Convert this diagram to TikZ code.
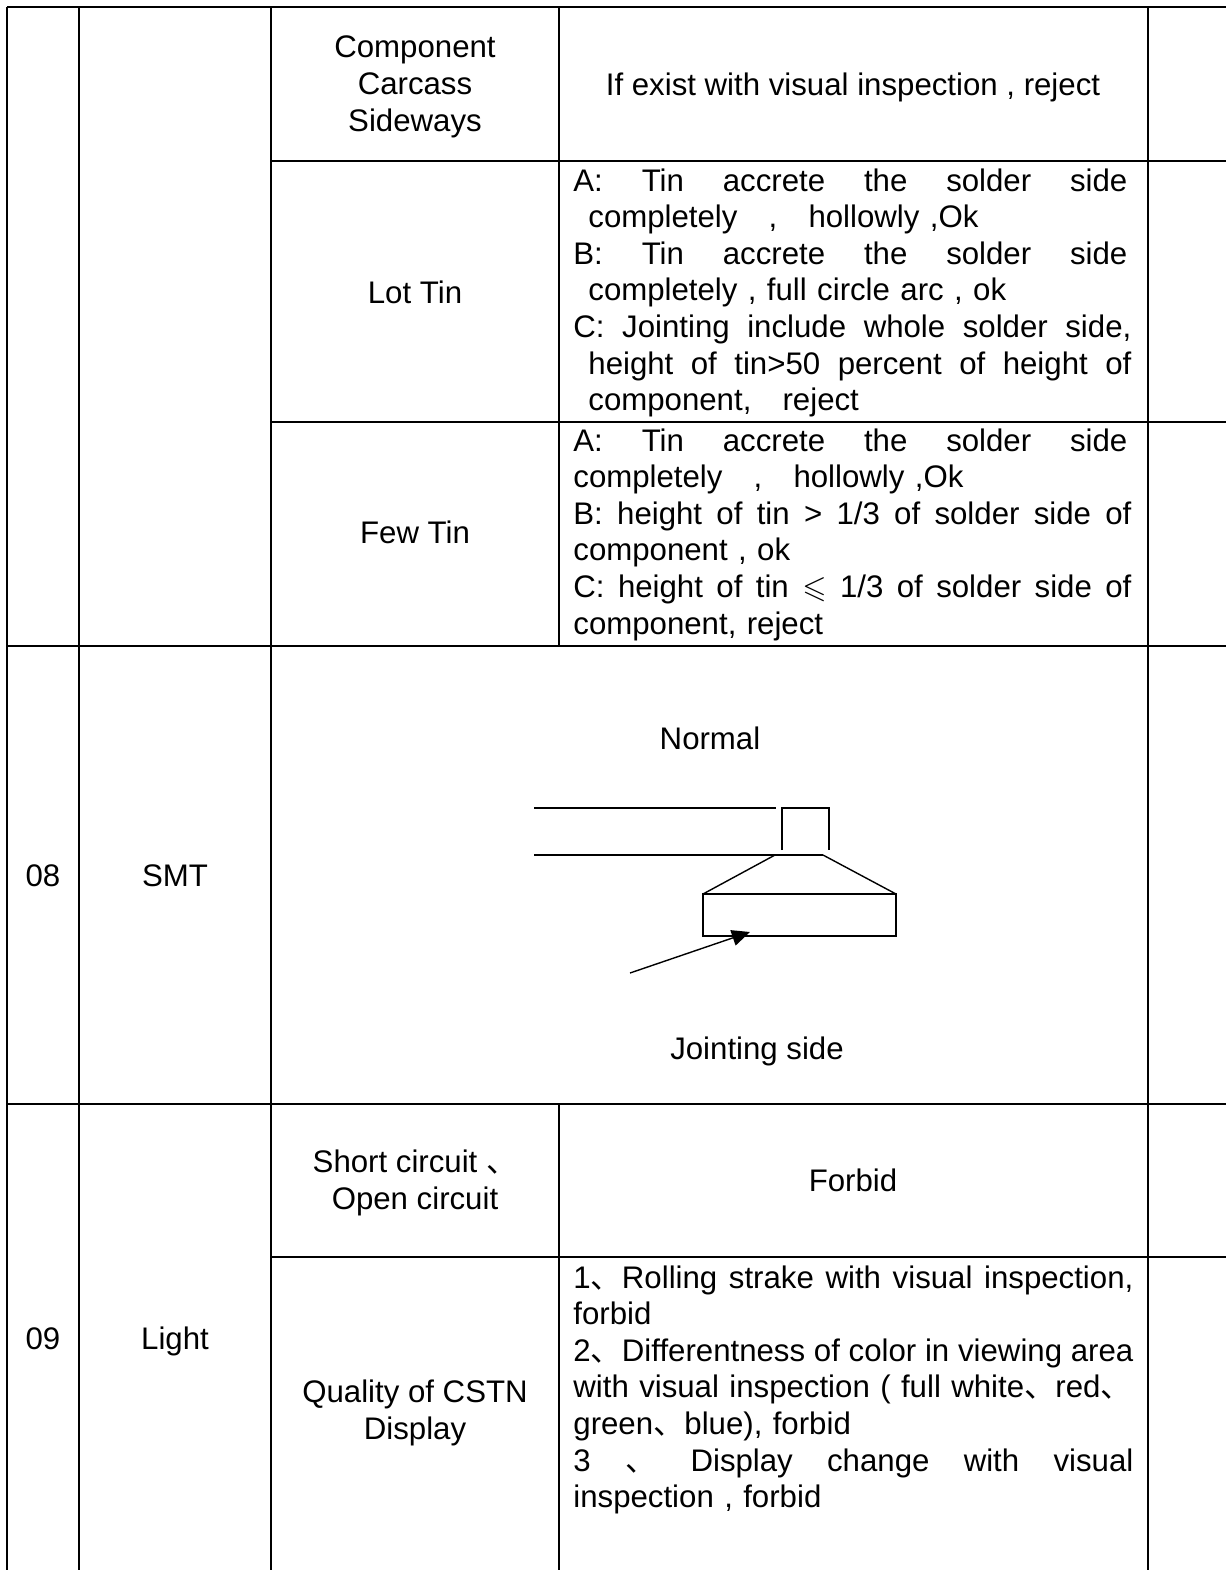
\documentclass[tikz,border=0pt]{standalone}
\usepackage{amssymb}
\usepackage{fontspec}
\setmainfont{Liberation Sans}
\newfontfamily\cjk{Noto Sans CJK SC}
\usetikzlibrary{arrows.meta}
\newcommand{\dun}{{\cjk 、}}
\newlength\dw
\setlength\dw{279pt}
\newcommand{\jl}[2][\dw]{\leavevmode\hbox to #1{\spaceskip=0.278em plus 1fil minus 0.12em\relax #2}}
\begin{document}
\begin{tikzpicture}[x=0.5pt,y=-0.5pt,
  tbl/.style={line width=1pt},
  fig/.style={line width=0.7pt},
  txt/.style={inner sep=0pt, font=\fontsize{15.6pt}{18.3pt}\selectfont},
  ctr/.style={txt, align=center, execute at begin node={\strut}, execute at end node={\strut}},
  desc/.style={txt, anchor=north west, text width=290pt, align=left, execute at begin node={\strut}}]
\useasboundingbox (0,0) rectangle (1226,1570);

% table grid
\draw[tbl] (7,7) -- (1226,7);
\draw[tbl] (7,7) -- (7,1570);
\draw[tbl] (79,7) -- (79,1570);
\draw[tbl] (271,7) -- (271,1570);
\draw[tbl] (559,7) -- (559,646);
\draw[tbl] (559,1104) -- (559,1570);
\draw[tbl] (1148,7) -- (1148,1570);
\draw[tbl] (271,161) -- (1226,161);
\draw[tbl] (271,422) -- (1226,422);
\draw[tbl] (7,646) -- (1226,646);
\draw[tbl] (7,1104) -- (1226,1104);
\draw[tbl] (271,1257) -- (1226,1257);

% section 1
\node[ctr] (compname) at (415,89) {Component\\Carcass\\Sideways};
\node[ctr] (compdesc) at (853,88) {If exist with visual inspection , reject};
\node[ctr] (lotname) at (415,296) {Lot Tin};
\node[desc] (lotdesc) at (573,165) {%
\jl[277pt]{A: Tin accrete the solder side}\\
\hspace*{7.5pt}completely\ \ \ ,\ \ \ hollowly ,Ok\\
\jl[277pt]{B: Tin accrete the solder side}\\
\hspace*{7.5pt}completely , full circle arc , ok\\
\jl{C: Jointing include whole solder side,}\\
\hspace*{7.5pt}\jl[\dimexpr\dw-7.5pt\relax]{height of tin>50 percent of height of}\\
\hspace*{7.5pt}component,\ \ \ reject};
\node[ctr] (fewname) at (415,536) {Few Tin};
\node[desc] (fewdesc) at (573,425) {%
\jl[277pt]{A: Tin accrete the solder side}\\
completely\ \ \ ,\ \ \ hollowly ,Ok\\
\jl{B: height of tin > 1/3 of solder side of}\\
component , ok\\
\jl{C: height of tin $\leqslant$ 1/3 of solder side of}\\
component, reject};

% SMT row
\node[ctr] (n08) at (43,879) {08};
\node[ctr] (smt) at (175,879) {SMT};
\node[ctr] (normal) at (710,742) {Normal};
\node[ctr] (jside) at (757,1052) {Jointing side};
\draw[fig] (534,808) -- (776,808);
\draw[fig] (782,850) -- (782,808) -- (829,808) -- (829,850);
\draw[fig] (534,855) -- (823,855);
\draw[fig] (775,855) -- (703,894);
\draw[fig] (823,855) -- (896,894);
\draw[fig] (703,894) rectangle (896,936);
\coordinate (arrtail) at (630,973);
\coordinate (arrtip) at (750,932);
\draw[fig, -{Triangle[length=9pt,width=8pt]}] (arrtail) -- (arrtip);

% Light row
\node[ctr] (n09) at (43,1342) {09};
\node[ctr] (light) at (175,1342) {Light};
\node[ctr] (shortname) at (415,1185) {Short circuit \dun\\ Open circuit};
\node[ctr] (shortdesc) at (853,1184) {Forbid};
\node[ctr] (qualname) at (415,1415) {Quality of CSTN\\Display};
\node[desc] (qualdesc) at (573,1262) {%
\jl[280pt]{1\dun Rolling strake with visual inspection,}\\
forbid\\
\jl[280pt]{2\dun Differentness of color in viewing area}\\
with visual inspection ( full white\dun red\dun\\
green\dun blue), forbid\\
\jl[280pt]{3 \dun\ Display change with visual}\\
inspection , forbid};
\end{tikzpicture}
\end{document}
